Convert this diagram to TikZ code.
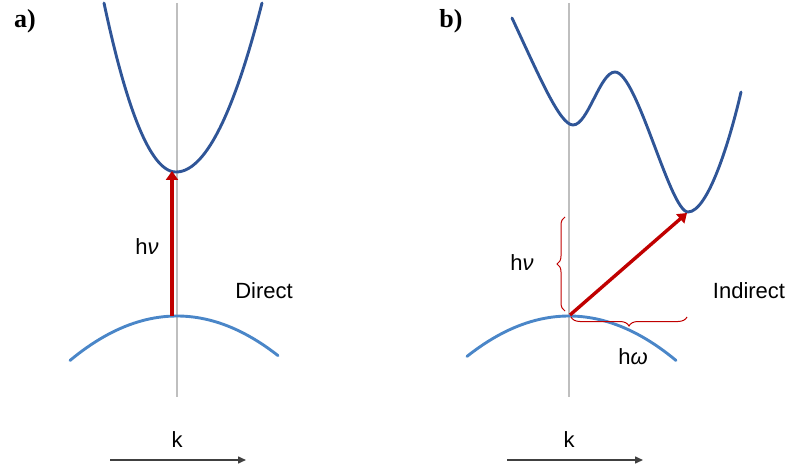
\documentclass[tikz,border=0pt]{standalone}
\usepackage{fontspec}
\setmainfont{Liberation Sans}
\newfontfamily\panelfont{Liberation Serif}
\usetikzlibrary{arrows.meta,decorations.pathreplacing}
\definecolor{cband}{HTML}{2F5597}
\definecolor{vband}{HTML}{4A86C8}
\definecolor{photon}{HTML}{C00000}
\definecolor{axisgray}{HTML}{BFBFBF}
\definecolor{kgray}{HTML}{404040}

\begin{document}
\begin{tikzpicture}[x=1pt,y=-1pt,
    cb/.style={cband,line width=2.9pt,line cap=round},
    vb/.style={vband,line width=2.9pt,line cap=round},
    gamma/.style={photon,line width=3.8pt,-{Triangle[length=9pt,width=12pt]}},
    kaxis/.style={kgray,line width=1.5pt,-{Triangle[length=8pt,width=7pt]}},
    gap/.style={photon,line width=1pt,decorate,decoration={brace,amplitude=#1}},
    lbl/.style={font=\fontsize{22}{26}\selectfont,text=black,inner sep=0pt},
    panel/.style={font=\panelfont\bfseries\fontsize{26}{30}\selectfont,inner sep=0pt}]
  \useasboundingbox (0,0) rectangle (787,470);
  % a) direct gap
  \node[panel] (tagA) at (25,21) {a)};
  \draw[axisgray,line width=1.3pt] (177,3) -- (177,397);
  \draw[cb] plot[domain=104:176,samples=40] (\x,{172-169*((\x-176)/72)^2})
    -- plot[domain=176:262,samples=40] (\x,{172-169*((\x-176)/86)^2});
  \draw[vb] plot[domain=70:278,samples=50] (\x,{316+42*((\x-177)/104)^2});
  \coordinate (vbmA) at (172,316);
  \coordinate (cbmA) at (172,171);
  \draw[gamma] (vbmA) -- (cbmA);
  \node[lbl] (hnuA) at (147,247) {h{\itshape ν}};
  \node[lbl] (direct) at (264,291) {Direct};
  \node[lbl] (kA) at (177,440) {k};
  \coordinate (kA0) at (110,460);
  \coordinate (kA1) at (246,460);
  \draw[kaxis] (kA0) -- (kA1);
  % b) indirect gap
  \node[panel] (tagB) at (451,21) {b)};
  \draw[axisgray,line width=1.3pt] (569,3) -- (569,397);
  \draw[cb] (512,18) .. controls (540,78) and (560,125) .. (573,125)
    .. controls (588,125) and (600,72) .. (615,72)
    .. controls (637,72) and (670,212) .. (688,212)
    .. controls (708,212) and (730,140) .. (741,92);
  \draw[vb] plot[domain=467:676,samples=50] (\x,{316+42*((\x-569)/104)^2});
  \coordinate (vbmB) at (570,315);
  \coordinate (cbmB) at (687,213);
  \draw[gamma,line width=3.4pt] (vbmB) -- (cbmB);
  \draw[gap=8pt] (565,311) -- (565,217);
  \draw[gap=9pt] (687,317) -- (571,317);
  \node[lbl] (hnuB) at (522,263) {h{\itshape ν}};
  \node[lbl] (homega) at (633,357) {h{\itshape ω}};
  \node[lbl] (indirect) at (749,291) {Indirect};
  \node[lbl] (kB) at (569,440) {k};
  \coordinate (kB0) at (507,460);
  \coordinate (kB1) at (643,460);
  \draw[kaxis] (kB0) -- (kB1);
\end{tikzpicture}
\end{document}
